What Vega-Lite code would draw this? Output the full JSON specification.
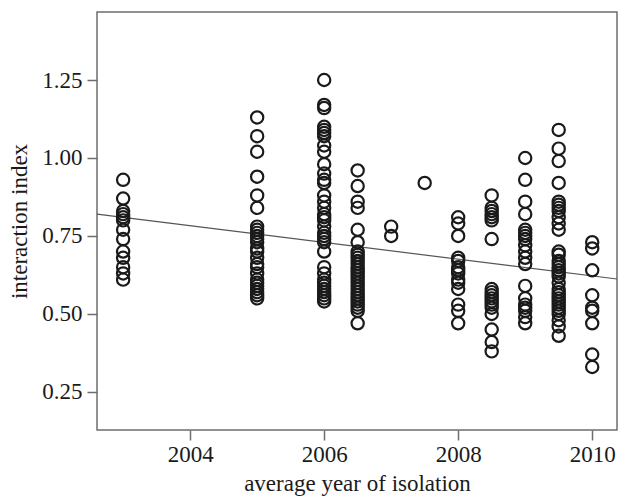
{
"$schema":"https://vega.github.io/schema/vega-lite/v6.json",
"autosize":{"type":"none"},
"padding":{"left":97,"top":12,"right":2,"bottom":67},
"width":520,"height":418,
"background":"white",
"config":{"view":{"stroke":"#6e6e6e","strokeWidth":1.5},
"axis":{"labelFont":"Liberation Serif","titleFont":"Liberation Serif","labelFontSize":23,"titleFontSize":23,"labelColor":"#1a1a1a","titleColor":"#1a1a1a","titleFontWeight":"normal","grid":false,"domainColor":"#6e6e6e","domainWidth":1.5,"tickColor":"#6e6e6e","tickWidth":1.5,"tickSize":10}},
"datasets":{
"points":[
{"year":2003,"index":0.93},{"year":2003,"index":0.87},{"year":2003,"index":0.83},{"year":2003,"index":0.82},{"year":2003,"index":0.81},{"year":2003,"index":0.80},{"year":2003,"index":0.77},{"year":2003,"index":0.74},{"year":2003,"index":0.70},{"year":2003,"index":0.68},{"year":2003,"index":0.65},{"year":2003,"index":0.63},{"year":2003,"index":0.61},
{"year":2005,"index":1.13},{"year":2005,"index":1.07},{"year":2005,"index":1.02},{"year":2005,"index":0.94},{"year":2005,"index":0.88},{"year":2005,"index":0.84},{"year":2005,"index":0.78},{"year":2005,"index":0.77},{"year":2005,"index":0.76},{"year":2005,"index":0.75},{"year":2005,"index":0.74},{"year":2005,"index":0.73},{"year":2005,"index":0.71},{"year":2005,"index":0.70},{"year":2005,"index":0.68},{"year":2005,"index":0.66},{"year":2005,"index":0.65},{"year":2005,"index":0.63},{"year":2005,"index":0.61},{"year":2005,"index":0.60},{"year":2005,"index":0.59},{"year":2005,"index":0.58},{"year":2005,"index":0.57},{"year":2005,"index":0.56},{"year":2005,"index":0.55},
{"year":2006,"index":1.25},{"year":2006,"index":1.17},{"year":2006,"index":1.16},{"year":2006,"index":1.10},{"year":2006,"index":1.09},{"year":2006,"index":1.08},{"year":2006,"index":1.07},{"year":2006,"index":1.04},{"year":2006,"index":1.02},{"year":2006,"index":0.98},{"year":2006,"index":0.95},{"year":2006,"index":0.93},{"year":2006,"index":0.92},{"year":2006,"index":0.88},{"year":2006,"index":0.86},{"year":2006,"index":0.84},{"year":2006,"index":0.82},{"year":2006,"index":0.81},{"year":2006,"index":0.80},{"year":2006,"index":0.78},{"year":2006,"index":0.76},{"year":2006,"index":0.75},{"year":2006,"index":0.74},{"year":2006,"index":0.73},{"year":2006,"index":0.70},{"year":2006,"index":0.65},{"year":2006,"index":0.63},{"year":2006,"index":0.61},{"year":2006,"index":0.60},{"year":2006,"index":0.59},{"year":2006,"index":0.58},{"year":2006,"index":0.57},{"year":2006,"index":0.56},{"year":2006,"index":0.55},{"year":2006,"index":0.54},
{"year":2006.5,"index":0.96},{"year":2006.5,"index":0.91},{"year":2006.5,"index":0.86},{"year":2006.5,"index":0.84},{"year":2006.5,"index":0.77},{"year":2006.5,"index":0.73},{"year":2006.5,"index":0.70},{"year":2006.5,"index":0.69},{"year":2006.5,"index":0.68},{"year":2006.5,"index":0.67},{"year":2006.5,"index":0.66},{"year":2006.5,"index":0.65},{"year":2006.5,"index":0.64},{"year":2006.5,"index":0.63},{"year":2006.5,"index":0.62},{"year":2006.5,"index":0.61},{"year":2006.5,"index":0.60},{"year":2006.5,"index":0.59},{"year":2006.5,"index":0.58},{"year":2006.5,"index":0.57},{"year":2006.5,"index":0.56},{"year":2006.5,"index":0.55},{"year":2006.5,"index":0.54},{"year":2006.5,"index":0.53},{"year":2006.5,"index":0.52},{"year":2006.5,"index":0.51},{"year":2006.5,"index":0.47},
{"year":2007,"index":0.78},{"year":2007,"index":0.75},
{"year":2007.5,"index":0.92},
{"year":2008,"index":0.81},{"year":2008,"index":0.79},{"year":2008,"index":0.75},{"year":2008,"index":0.68},{"year":2008,"index":0.67},{"year":2008,"index":0.65},{"year":2008,"index":0.64},{"year":2008,"index":0.63},{"year":2008,"index":0.61},{"year":2008,"index":0.60},{"year":2008,"index":0.58},{"year":2008,"index":0.53},{"year":2008,"index":0.51},{"year":2008,"index":0.47},
{"year":2008.5,"index":0.88},{"year":2008.5,"index":0.84},{"year":2008.5,"index":0.83},{"year":2008.5,"index":0.82},{"year":2008.5,"index":0.81},{"year":2008.5,"index":0.80},{"year":2008.5,"index":0.74},{"year":2008.5,"index":0.58},{"year":2008.5,"index":0.57},{"year":2008.5,"index":0.56},{"year":2008.5,"index":0.55},{"year":2008.5,"index":0.54},{"year":2008.5,"index":0.53},{"year":2008.5,"index":0.52},{"year":2008.5,"index":0.50},{"year":2008.5,"index":0.45},{"year":2008.5,"index":0.41},{"year":2008.5,"index":0.38},
{"year":2009,"index":1.00},{"year":2009,"index":0.93},{"year":2009,"index":0.86},{"year":2009,"index":0.82},{"year":2009,"index":0.77},{"year":2009,"index":0.76},{"year":2009,"index":0.75},{"year":2009,"index":0.74},{"year":2009,"index":0.72},{"year":2009,"index":0.70},{"year":2009,"index":0.68},{"year":2009,"index":0.66},{"year":2009,"index":0.59},{"year":2009,"index":0.55},{"year":2009,"index":0.53},{"year":2009,"index":0.52},{"year":2009,"index":0.51},{"year":2009,"index":0.49},{"year":2009,"index":0.47},
{"year":2009.5,"index":1.09},{"year":2009.5,"index":1.03},{"year":2009.5,"index":0.99},{"year":2009.5,"index":0.92},{"year":2009.5,"index":0.86},{"year":2009.5,"index":0.85},{"year":2009.5,"index":0.84},{"year":2009.5,"index":0.83},{"year":2009.5,"index":0.81},{"year":2009.5,"index":0.79},{"year":2009.5,"index":0.77},{"year":2009.5,"index":0.70},{"year":2009.5,"index":0.69},{"year":2009.5,"index":0.67},{"year":2009.5,"index":0.66},{"year":2009.5,"index":0.65},{"year":2009.5,"index":0.64},{"year":2009.5,"index":0.63},{"year":2009.5,"index":0.62},{"year":2009.5,"index":0.60},{"year":2009.5,"index":0.58},{"year":2009.5,"index":0.57},{"year":2009.5,"index":0.56},{"year":2009.5,"index":0.55},{"year":2009.5,"index":0.54},{"year":2009.5,"index":0.53},{"year":2009.5,"index":0.52},{"year":2009.5,"index":0.51},{"year":2009.5,"index":0.50},{"year":2009.5,"index":0.48},{"year":2009.5,"index":0.46},{"year":2009.5,"index":0.43},
{"year":2010,"index":0.73},{"year":2010,"index":0.71},{"year":2010,"index":0.64},{"year":2010,"index":0.56},{"year":2010,"index":0.52},{"year":2010,"index":0.51},{"year":2010,"index":0.47},{"year":2010,"index":0.37},{"year":2010,"index":0.33}
],
"fit":[{"year":2002.61,"index":0.82},{"year":2010.37,"index":0.612}]
},
"encoding":{
"x":{"field":"year","type":"quantitative","scale":{"domain":[2002.61,2010.37],"nice":false,"zero":false},
"axis":{"values":[2004,2006,2008,2010],"format":"d","title":"average year of isolation","labelPadding":3,"titlePadding":6,"domain":false}},
"y":{"field":"index","type":"quantitative","scale":{"domain":[0.128,1.468],"nice":false,"zero":false},
"axis":{"values":[0.25,0.5,0.75,1.0,1.25],"format":".2f","title":"interaction index","labelPadding":5,"titlePadding":10,"domain":false}}
},
"layer":[
{"data":{"name":"fit"},"mark":{"type":"line","color":"#555555","strokeWidth":1.2}},
{"data":{"name":"points"},"mark":{"type":"point","shape":"circle","filled":false,"size":150,"stroke":"#1a1a1a","strokeWidth":2.2,"opacity":1}}
]
}
